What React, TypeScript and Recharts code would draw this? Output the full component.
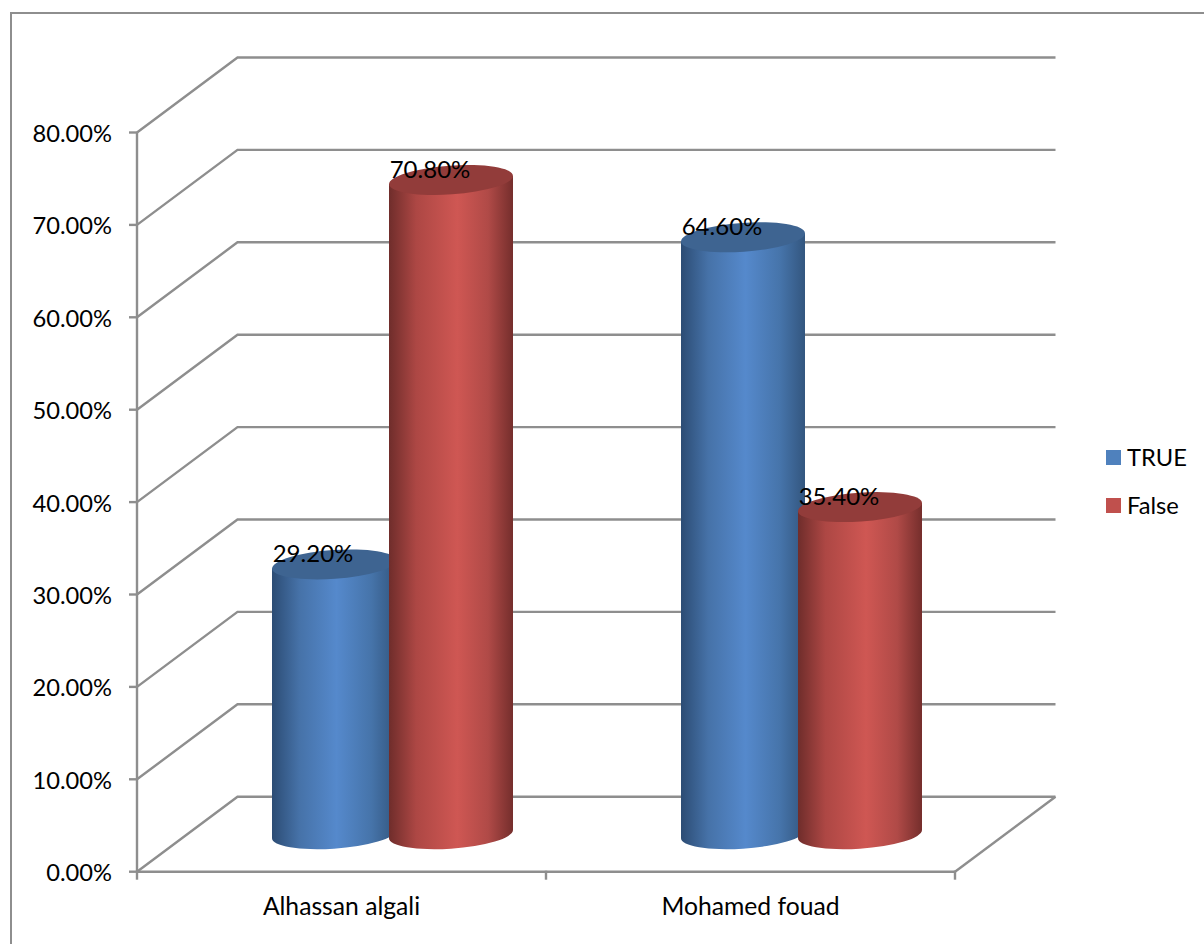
import React from 'react';
import { BarChart, Bar, XAxis, YAxis, CartesianGrid, Legend, LabelList } from 'recharts';

const people = ['Alhassan algali', 'Mohamed fouad'];
const trueShare = [29.2, 64.6];
const falseShare = [70.8, 35.4];
const percentTicks = [0, 10, 20, 30, 40, 50, 60, 70, 80];

const chartData = people.map((name, i) => ({ name, TRUE: trueShare[i], False: falseShare[i] }));

const LINE = '#8e8e8e';
const LINE_WIDTH = 2.4;
const FONT = 'Lato, Carlito, sans-serif';
const FONT_SIZE = 23.7;

// perspective offset of the back wall, and of the cylinders standing half way in
const DEPTH_X = 100.5;
const DEPTH_Y = 75;
const BAR_DX = 51;
const BAR_DY = 37.5;

const formatPercent = (v: number) => `${v.toFixed(2)}%`;

const Cylinder = (props: any) => {
  const { x, y, width, height, gradient, cap } = props;
  const rx = width / 2 + 0.1;
  const ry = 14.4;
  const tilt = -4;
  const lean = 4.1;
  const left = x + BAR_DX;
  const right = left + width;
  const cx = left + width / 2;
  const top = y - BAR_DY;
  const bottom = y + height - BAR_DY;
  const body =
    `M${left} ${top + lean} L${left} ${bottom + lean} ` +
    `A${rx} ${ry} ${tilt} 0 0 ${right} ${bottom - lean} ` +
    `L${right} ${top - lean} Z`;
  return (
    <g>
      <path d={body} fill={`url(#${gradient})`} />
      <ellipse cx={cx} cy={top} rx={rx} ry={ry} fill={cap} transform={`rotate(${tilt} ${cx} ${top})`} />
    </g>
  );
};

const ValueLabel = (props: any) => {
  const { viewBox, x, y, width, value } = props;
  const bx = x ?? viewBox.x;
  const by = y ?? viewBox.y;
  const bw = width ?? viewBox.width;
  return (
    <text
      x={bx + bw / 2 + BAR_DX - 21}
      y={by - BAR_DY - 12}
      textAnchor="middle"
      dominantBaseline="central"
      fontFamily={FONT}
      fontSize={24}
      fill="#000"
    >
      {formatPercent(value)}
    </text>
  );
};

// horizontal grid line: floor edge going back into the wall, then along the wall
const WallLine = (props: any) => {
  const { x1, y1, x2, index } = props;
  const d = `M${x1} ${y1} L${x1 + DEPTH_X} ${y1 - DEPTH_Y} L${x2 + DEPTH_X} ${y1 - DEPTH_Y}`;
  return (
    <g fill="none" stroke={LINE} strokeWidth={LINE_WIDTH}>
      <path d={d} />
      {index === 0 && <path d={`M${x2} ${y1} L${x2 + DEPTH_X} ${y1 - DEPTH_Y}`} />}
    </g>
  );
};

// category label under the band, tick marks on the band edges
const CategoryTick = (props: any) => {
  const { x, y, width, index, payload } = props;
  const band = width / people.length;
  const edge = x - band / 2;
  return (
    <g>
      <line x1={edge} y1={y - 9} x2={edge} y2={y} stroke={LINE} strokeWidth={LINE_WIDTH} />
      {index === people.length - 1 && (
        <line x1={edge + band} y1={y - 9} x2={edge + band} y2={y} stroke={LINE} strokeWidth={LINE_WIDTH} />
      )}
      <text x={x} y={y + 26} textAnchor="middle" dominantBaseline="central" fontFamily={FONT} fontSize={24.7} fill="#000">
        {payload.value}
      </text>
    </g>
  );
};

const LegendList = ({ payload }: any) => (
  <div style={{ fontFamily: FONT, fontSize: FONT_SIZE, color: '#000' }}>
    {(payload || []).map((item: any) => (
      <div key={item.value} style={{ display: 'flex', alignItems: 'center', height: 48 }}>
        <span style={{ width: 15, height: 15, background: item.color, marginRight: 6 }} />
        {item.value}
      </div>
    ))}
  </div>
);

export default function App() {
  return (
    <div style={{ position: 'absolute', left: 0, top: 0, width: 1204, height: 944, overflow: 'hidden', background: '#fff' }}>
      <div
        style={{
          position: 'absolute',
          left: 10,
          top: 12,
          width: 1300,
          height: 1100,
          borderLeft: `2px solid ${LINE}`,
          borderTop: `2px solid ${LINE}`,
        }}
      />
      <BarChart
        width={1204}
        height={944}
        data={chartData}
        barSize={124}
        barGap={-7}
        margin={{ top: 132.5, right: 151, bottom: 32.3, left: 37 }}
        style={{ position: 'absolute', left: 0, top: 0 }}
      >
        <defs>
          <linearGradient id="blueBody" x1="0" y1="0" x2="1" y2="0">
            <stop offset="0%" stopColor="#2c4c74" />
            <stop offset="22%" stopColor="#4672a8" />
            <stop offset="52%" stopColor="#5589cc" />
            <stop offset="80%" stopColor="#4674aa" />
            <stop offset="100%" stopColor="#33567f" />
          </linearGradient>
          <linearGradient id="redBody" x1="0" y1="0" x2="1" y2="0">
            <stop offset="0%" stopColor="#6f2d2b" />
            <stop offset="22%" stopColor="#ad4744" />
            <stop offset="55%" stopColor="#cf5753" />
            <stop offset="80%" stopColor="#b04a47" />
            <stop offset="100%" stopColor="#752e2c" />
          </linearGradient>
        </defs>
        <CartesianGrid vertical={false} horizontal={(p: any) => <WallLine {...p} />} />
        <XAxis
          dataKey="name"
          height={40}
          interval={0}
          tickLine={false}
          axisLine={{ stroke: LINE, strokeWidth: LINE_WIDTH }}
          tick={(p: any) => <CategoryTick {...p} />}
        />
        <YAxis
          width={100}
          domain={[0, 80]}
          ticks={percentTicks}
          interval={0}
          tickFormatter={formatPercent}
          tickSize={8}
          tickMargin={17}
          axisLine={{ stroke: LINE, strokeWidth: LINE_WIDTH }}
          tickLine={{ stroke: LINE, strokeWidth: LINE_WIDTH }}
          tick={{ fill: '#000', fontFamily: FONT, fontSize: FONT_SIZE, dy: 1 }}
        />
        <Legend
          layout="vertical"
          align="right"
          verticalAlign="top"
          itemSorter={null}
          wrapperStyle={{ left: 1106, top: 433, width: 98 }}
          content={<LegendList />}
        />
        <Bar
          dataKey="TRUE"
          fill="#4f81bd"
          isAnimationActive={false}
          shape={(p: any) => <Cylinder {...p} gradient="blueBody" cap="#3e6491" />}
        >
          <LabelList dataKey="TRUE" content={<ValueLabel />} />
        </Bar>
        <Bar
          dataKey="False"
          fill="#c0504d"
          isAnimationActive={false}
          shape={(p: any) => <Cylinder {...p} gradient="redBody" cap="#923c3a" />}
        >
          <LabelList dataKey="False" content={<ValueLabel />} />
        </Bar>
      </BarChart>
    </div>
  );
}
